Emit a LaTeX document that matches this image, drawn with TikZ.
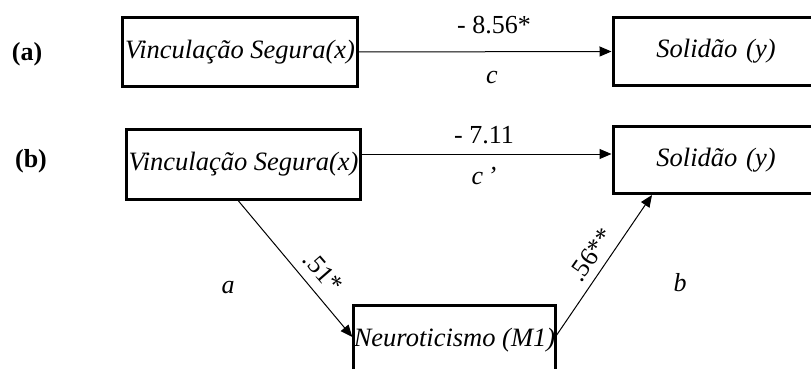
\documentclass[tikz,border=0pt]{standalone}
\usepackage{fontspec}
\setmainfont{Liberation Serif}
\usetikzlibrary{arrows.meta,calc}
\begin{document}
\begin{tikzpicture}[x=1pt,y=-1pt,
  box/.style={draw,line width=3pt,inner sep=0pt,font=\fontsize{26.5}{30}\selectfont\itshape},
  arr/.style={line width=1pt,-{Triangle[length=12pt,width=10pt]}},
  num/.style={font=\fontsize{26}{30}\selectfont,inner sep=0pt},
  lett/.style={font=\fontsize{26}{30}\selectfont\itshape,inner sep=0pt},
  lab/.style={font=\fontsize{26}{30}\selectfont\bfseries,inner sep=0pt}]
\useasboundingbox (0,0) rectangle (811,369);
\clip (0,0) rectangle (811,369);
\node[box,minimum width=235pt,minimum height=69pt] (XA) at (240,52) {Vinculação Segura(x)};
\node[box,minimum width=234pt,minimum height=70pt] (XB) at (243.5,164.5) {Vinculação Segura(x)};
\node[box,minimum width=206pt,minimum height=68pt,text width=206pt,align=center] (YA) at (716,51.5) {Solidão (y)};
\node[box,minimum width=206pt,minimum height=67pt,text width=206pt,align=center] (YB) at (716,160) {Solidão (y)};
\node[box,minimum width=192pt,minimum height=69pt] (M) at (454.5,340) {Neuroticismo (M1)};
\node[lab] (la) at (27,54) {(a)};
\node[lab] (lb) at (31,161) {(b)};
\draw[arr] (XA.east) -- (YA.west);
\coordinate (p) at ([yshift=10.5pt]XB.east);
\draw[arr] (p) -- (p -| YB.west);
\draw[arr] ([xshift=-5pt]XB.south) -- ([yshift=3pt]M.west);
\draw[arr] ([yshift=5pt]M.east) -- ([xshift=-64pt]YB.south);
\node[num] (n1) at (494,25) {- 8.56*};
\node[lett] (c1) at (492,78) {c};
\node[num] (n2) at (484,135) {- 7.11};
\node[lett] (c2) at (484,176) {c\,’};
\node[num,rotate=-49] (n3) at (323,272) {.51*};
\node[num,rotate=55] (n4) at (591,255) {.56**};
\node[lett] (a) at (228,288) {a};
\node[lett] (b) at (680,283) {b};
\end{tikzpicture}
\end{document}
